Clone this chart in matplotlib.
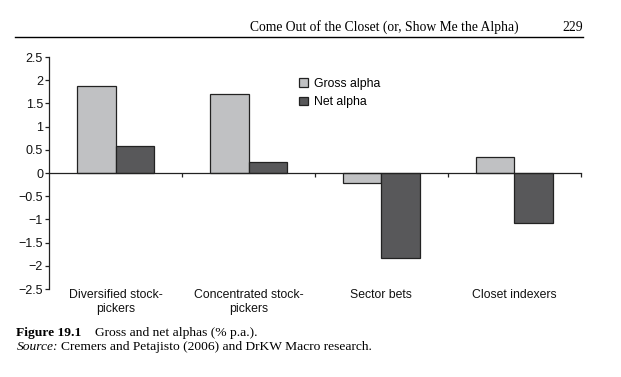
import matplotlib
matplotlib.use('Agg')
import matplotlib.pyplot as plt
import numpy as np
from matplotlib.patches import Patch
from matplotlib.ticker import FuncFormatter
from matplotlib.transforms import blended_transform_factory

# data (% p.a.)
categories = ['Diversified stock-\npickers', 'Concentrated stock-\npickers', 'Sector bets', 'Closet indexers']
gross_alpha = [1.87, 1.70, -0.21, 0.34]
net_alpha = [0.58, 0.24, -1.83, -1.07]
y_ticks = [-2.5, -2, -1.5, -1, -0.5, 0, 0.5, 1, 1.5, 2, 2.5]

W, H = 621, 377
gross_color = '#c0c1c3'
net_color = '#58585a'


def px(x, y):
    return x / W, 1 - y / H


fig = plt.figure(figsize=(W / 100, H / 100), dpi=100)
fig.patch.set_facecolor('white')

left, right = 49.3, 580.5
top, bottom = 57, 289
ax = fig.add_axes([left / W, 1 - bottom / H, (right - left) / W, (bottom - top) / H])

x = np.arange(len(categories))
bw = 0.29
ax.bar(x - bw / 2, gross_alpha, bw, color=gross_color, edgecolor='#222222', linewidth=0.9, label='Gross alpha')
ax.bar(x + bw / 2, net_alpha, bw, color=net_color, edgecolor='#222222', linewidth=0.9, label='Net alpha')

ax.set_xlim(-0.5, len(categories) - 0.5)
ax.set_ylim(-2.5, 2.5)

for s in ['top', 'right']:
    ax.spines[s].set_visible(False)
ax.spines['bottom'].set_position(('data', 0))
ax.spines['left'].set_linewidth(0.9)
ax.spines['bottom'].set_linewidth(0.9)
ax.spines['left'].set_color('#222222')
ax.spines['bottom'].set_color('#222222')

ax.set_yticks(y_ticks)
ax.yaxis.set_major_formatter(FuncFormatter(lambda v, p: '{:g}'.format(v).replace('-', '\u2212')))
ax.tick_params(axis='y', direction='out', length=3, width=0.9, color='#222222',
               labelsize=9, pad=1.5, labelcolor='#111111')
ax.set_xticks(np.arange(len(categories)) + 0.5)
ax.set_xticklabels([])
ax.tick_params(axis='x', direction='out', length=3, width=0.9, color='#222222')
for lab in ax.get_yticklabels():
    lab.set_family('Liberation Sans')

trans = blended_transform_factory(ax.transData, fig.transFigure)
for i, c in enumerate(categories):
    ax.text(x[i], 1 - 289 / H, c, transform=trans, ha='center', va='top',
            fontsize=8.8, family='Liberation Sans', color='#111111', linespacing=1.25)

handles = [Patch(facecolor=gross_color, edgecolor='#222222', linewidth=0.9, label='Gross alpha'),
           Patch(facecolor=net_color, edgecolor='#222222', linewidth=0.9, label='Net alpha')]
fig.legend(handles=handles, loc='upper left', bbox_to_anchor=px(299, 78), frameon=False,
           handlelength=0.7, handleheight=0.7, handletextpad=0.5, labelspacing=0.5,
           prop={'family': 'Liberation Sans', 'size': 8.8}, borderaxespad=0, borderpad=0)

# running head
fig.text(*px(519, 31), 'Come Out of the Closet (or, Show Me the Alpha)', ha='right', va='baseline',
         fontsize=9.8, family='Liberation Serif')
fig.text(*px(583, 31), '229', ha='right', va='baseline', fontsize=9.8, family='Liberation Serif')
fig.add_artist(plt.Line2D([15 / W, 583 / W], [1 - 37.3 / H, 1 - 37.3 / H], color='black', linewidth=1.0))

# caption
fig.canvas.draw()
r = fig.canvas.get_renderer()
t1 = fig.text(*px(16.5, 336), 'Figure 19.1', fontsize=9.7, family='Liberation Serif', weight='bold', va='baseline')
x1 = t1.get_window_extent(r).x1
fig.text(x1 / W + 13 / W, 1 - 336 / H, 'Gross and net alphas (% p.a.).', fontsize=9.7,
         family='Liberation Serif', va='baseline')
t2 = fig.text(*px(16.5, 350), 'Source:', fontsize=9.7, family='Liberation Serif', style='italic', va='baseline')
x2 = t2.get_window_extent(r).x1
fig.text(x2 / W + 3 / W, 1 - 350 / H, 'Cremers and Petajisto (2006) and DrKW Macro research.', fontsize=9.7,
         family='Liberation Serif', va='baseline')

fig.savefig('out.png', dpi=100)
